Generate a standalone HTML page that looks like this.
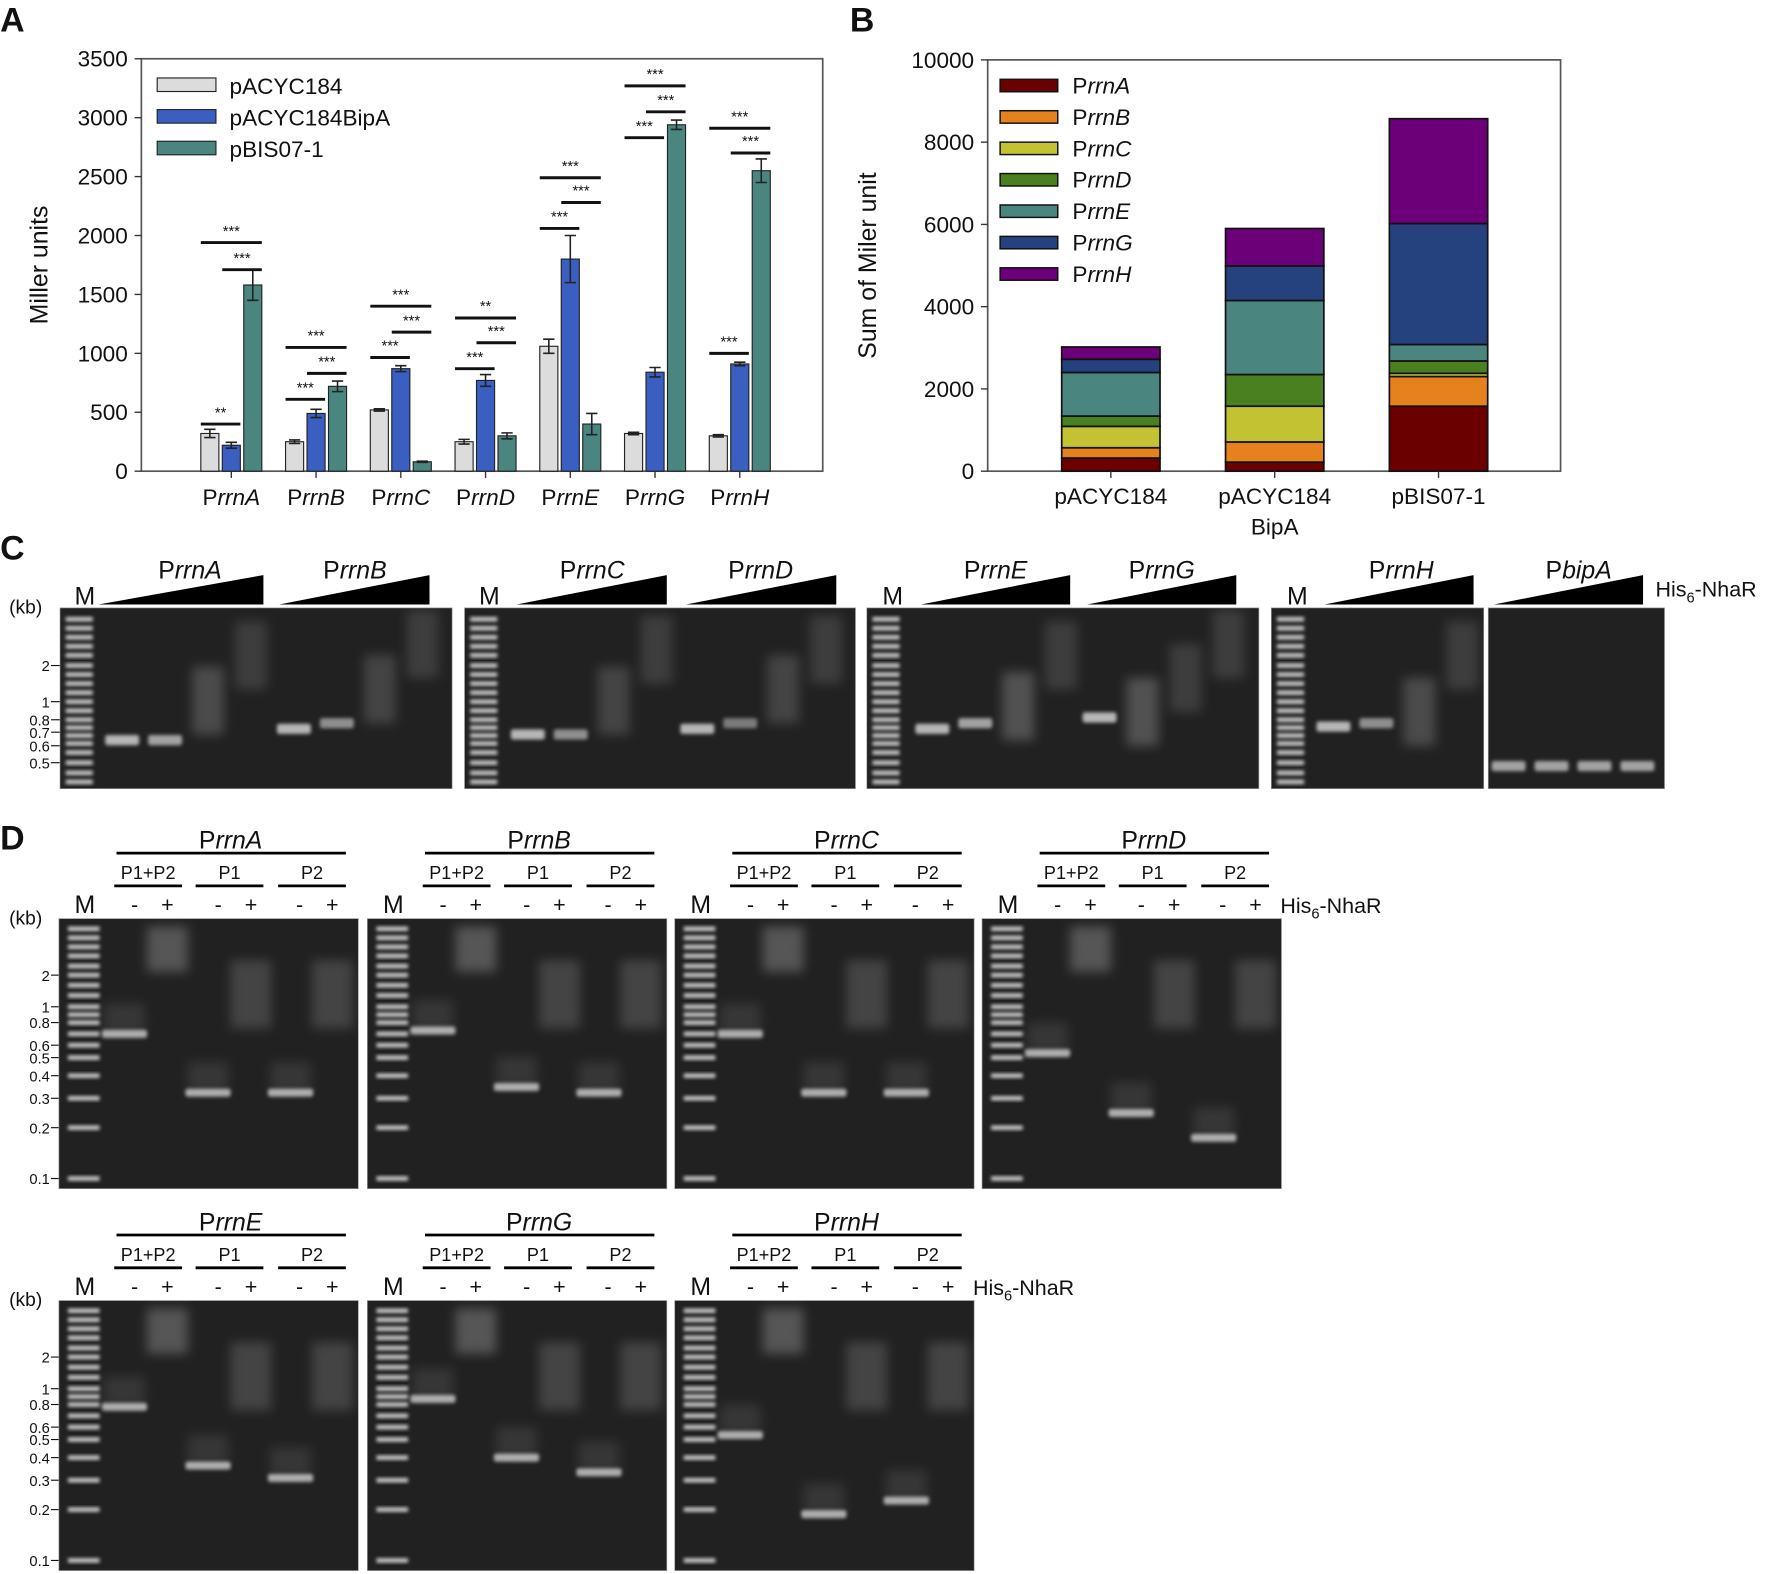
<!DOCTYPE html>
<html><head><meta charset="utf-8">
<style>
html,body{margin:0;padding:0;background:#fff;}
svg{display:block;font-family:"Liberation Sans",Arial,sans-serif;}
</style></head>
<body>
<svg id="fig" width="1772" height="1574" viewBox="0 0 1568 1393" xmlns="http://www.w3.org/2000/svg">
<defs>
<filter id="blur" x="-50%" y="-50%" width="200%" height="200%"><feGaussianBlur stdDeviation="1.6"/></filter>
<filter id="blur2" x="-50%" y="-50%" width="200%" height="200%"><feGaussianBlur stdDeviation="5"/></filter>
</defs>
<rect width="1568" height="1393" fill="#fff"/>
<g id="panelA"></g>
<g id="panelB"></g>
<g id="panelC"></g>
<g id="panelD"></g>
</svg>
<script>
// ---- Panel A data ----
const categories = ["A","B","C","D","E","G","H"];
const seriesNames = ["pACYC184","pACYC184BipA","pBIS07-1"];
const valsPACYC = [320,250,520,250,1060,320,300];
const valsBipA = [220,490,870,770,1800,840,910];
const valsPBIS = [1580,720,80,300,400,2940,2550];
const errPACYC = [35,15,10,20,60,10,10];
const errBipA = [25,35,25,50,200,40,15];
const errPBIS = [130,45,5,25,90,40,100];
const yTicksA = [0,500,1000,1500,2000,2500,3000,3500];
// significance: group, fromSeries, toSeries, y value, label
const sigGroup = [0,0,0, 1,1,1, 2,2,2, 3,3,3, 4,4,4, 5,5,5, 6,6,6];
const sigFrom  = [0,0,1, 0,1,0, 0,1,0, 0,1,0, 0,1,0, 0,1,0, 0,1,0];
const sigTo    = [1,2,2, 2,2,1, 2,2,1, 2,2,1, 2,2,1, 2,2,1, 2,2,1];
const sigY     = [400,1940,1710, 1050,830,610, 1400,1180,965, 1300,1090,870, 2490,2280,2060, 3270,3050,2830, 2910,2700,1000];
const sigLabel = ["**","***","***","***","***","***","***","***","***","**","***","***","***","***","***","***","***","***","***","***","***"];
const sigHas   = [1,1,1, 1,1,1, 1,1,1, 1,1,1, 1,1,1, 1,1,1, 1,1,1];
// ---- Panel B data ----
const stackCats = ["pACYC184","pACYC184\nBipA","pBIS07-1"];
const stackKeys = ["A","B","C","D","E","G","H"];
const yTicksB = [0,2000,4000,6000,8000,10000];

const NS="http://www.w3.org/2000/svg";
function mk(tag, attrs, parent){const e=document.createElementNS(NS,tag);for(const k in attrs)e.setAttribute(k,attrs[k]);parent.appendChild(e);return e;}
function txt(parent,x,y,s,size,anchor,extra){const t=mk('text',Object.assign({x:x,y:y,'font-size':size,'text-anchor':anchor||'start',fill:'#111'},extra||{}),parent);t.textContent=s;return t;}
function promoter(parent,x,y,letter,size,anchor,prefix){const t=mk('text',{x:x,y:y,'font-size':size,'text-anchor':anchor||'middle',fill:'#111'},parent);const a=mk('tspan',{},t);a.textContent=(prefix||'P');const b=mk('tspan',{'font-style':'italic'},t);b.textContent=letter;return t;}

// ================= Panel A =================
const A=document.getElementById('panelA');
const AL=125,AR=728,AT=52,AB=417;
function yA(v){return AB-v/3500*(AB-AT);}
function xA(g,s){return 204.6+75*g+(s-1)*19;}
let lab=txt(A,0,28,"A",30,'start',{'font-weight':'bold'});


let frame=mk('rect',{x:AL,y:AT,width:AR-AL,height:AB-AT,fill:'none',stroke:'#555','stroke-width':1.5},A);


yTicksA.forEach(v=>{
  const tk=mk('line',{x1:AL-6,x2:AL,y1:yA(v),y2:yA(v),stroke:'#333','stroke-width':1.2},A);
  
  
  const t=txt(A,AL-12,yA(v)+7,String(v),20,'end');
  
  
});
let yt=txt(A,0,0,"Miller units",22,'middle',{transform:`translate(42,${(AT+AB)/2}) rotate(-90)`});


const colsA=["#dcdcdc","#3a5fc0","#4a8580"];
const valsA=[valsPACYC,valsBipA,valsPBIS];
const errsA=[errPACYC,errBipA,errPBIS];
categories.forEach((c,g)=>{
  const tk=mk('line',{x1:xA(g,1),x2:xA(g,1),y1:AB,y2:AB+6,stroke:'#333','stroke-width':1.2},A);
  
  
  const t=promoter(A,xA(g,1),AB+30,"rrn"+c,20,'middle');
  
  
  for(let s=0;s<3;s++){
    const v=valsA[s][g],e=errsA[s][g],x=xA(g,s);
    const b=mk('rect',{x:x-8,y:yA(v),width:16,height:AB-yA(v),fill:colsA[s],stroke:'#222','stroke-width':1},A);
    
    
    const eb=mk('path',{d:`M${x-5},${yA(v+e)}H${x+5}M${x},${yA(v+e)}V${yA(v-e)}M${x-5},${yA(v-e)}H${x+5}`,stroke:'#222','stroke-width':1.4,fill:'none'},A);
    
    
  }
});
sigGroup.forEach((g,i)=>{
  if(!sigHas[i])return;
  const x1=xA(g,sigFrom[i])-8,x2=xA(g,sigTo[i])+8,y=yA(sigY[i]);
  const l=mk('line',{x1:x1,x2:x2,y1:y,y2:y,stroke:'#111','stroke-width':2.6},A);
  
  
  const t=txt(A,(x1+x2)/2,y-6,sigLabel[i],13,'middle');
  
  
});
seriesNames.forEach((n,s)=>{
  const y=75+28*s;
  const r=mk('rect',{x:139,y:y-6,width:52,height:12,fill:colsA[s],stroke:'#222','stroke-width':1},A);
  
  
  const t=txt(A,203,y+8,n,20,'start');
  
  
});

// ================= Panel B =================
const B=document.getElementById('panelB');
const BL=874,BR=1381,BT=53,BB=417;
function yB(v){return BB-v/10000*(BB-BT);}
function xB(i){return 983+145*i;}
lab=txt(B,752,28,"B",30,'start',{'font-weight':'bold'});


frame=mk('rect',{x:BL,y:BT,width:BR-BL,height:BB-BT,fill:'none',stroke:'#555','stroke-width':1.5},B);


yTicksB.forEach(v=>{
  const tk=mk('line',{x1:BL-6,x2:BL,y1:yB(v),y2:yB(v),stroke:'#333','stroke-width':1.2},B);
  
  
  const t=txt(B,BL-12,yB(v)+7,String(v),20,'end');
  
  
});
yt=txt(B,0,0,"Sum of Miler unit",22,'middle',{transform:`translate(775,${(BT+BB)/2}) rotate(-90)`});


const colsB=["#6b0000","#e6821e","#c2c232","#4a8020","#4a8580","#26427e","#6c0078"];
stackCats.forEach((c,i)=>{
  const vals=valsA[i];
  let acc=0;
  const x=xB(i);
  vals.forEach((v,k)=>{
    const r=mk('rect',{x:x-43.5,y:yB(acc+v),width:87,height:yB(acc)-yB(acc+v),fill:colsB[k],stroke:'#111','stroke-width':1.5},B);
    
    
    acc+=v;
  });
  const tk=mk('line',{x1:x,x2:x,y1:BB,y2:BB+6,stroke:'#333','stroke-width':1.2},B);
  
  
  c.split('\n').forEach((line,j)=>{
    const t=txt(B,x,BB+29+j*27,line,20,'middle');
    
    
  });
});
stackKeys.forEach((k,i)=>{
  const y=75.7+27.8*i;
  const r=mk('rect',{x:885,y:y-5.5,width:51,height:11,fill:colsB[i],stroke:'#111','stroke-width':1.3},B);
  
  
  const t=promoter(B,949,y+7,"rrn"+k,20,'start');
  
  
});

// ================= Gels helpers =================
function gel(parent,x,y,w,h){const r=mk('rect',{x:x,y:y,width:w,height:h,fill:'#212121',stroke:'#999','stroke-width':0.6},parent);return r;}
function band(parent,x,y,w,h,op){const r=mk('rect',{x:x-w/2,y:y-h/2,width:w,height:h,fill:'#e8e8e8',opacity:op,rx:2,filter:'url(#blur)'},parent);return r;}
function smear(parent,x,y,w,h,op){const r=mk('rect',{x:x-w/2,y:y-h/2,width:w,height:h,fill:'#cfcfcf',opacity:op,filter:'url(#blur2)'},parent);return r;}
function ladder(parent,x,ys,w){ys.forEach(yy=>{const r=mk('rect',{x:x,y:yy-2,width:w,height:4,fill:'#f2f2f2',opacity:0.8,filter:'url(#blur)'},parent);});}

// ================= Panel C =================
const C=document.getElementById('panelC');
lab=txt(C,0,495,"C",30,'start',{'font-weight':'bold'});


let t=txt(C,8,543,"(kb)",17,'start');


[["2",589],["1",621],["0.8",637],["0.7",648],["0.6",660],["0.5",675]].forEach(k=>{
  const tt=txt(C,44,k[1]+5,k[0],13,'end');
  
  
  const l=mk('line',{x1:45,x2:53,y1:k[1],y2:k[1],stroke:'#111','stroke-width':1},C);
  
  
});
const cGels=[[53,347],[411,346],[767,347],[1125,188],[1317,156]];
cGels.forEach(g=>gel(C,g[0],538,g[1],160));
const ladC=[548,556,564,572,580,589,597,605,613,621,629,637,644,651,658,666,675,684,692];
[53,411,767,1125].forEach(x=>ladder(C,x+5,ladC,24));
// headers C
[["A",168,87,233],["B",314,247,380],["C",524,457,590],["D",673,607,740],["E",881,815,947],["G",1028,962,1094],["H",1240,1172,1304]].forEach(h=>{
  const tt=promoter(C,h[1],512,"rrn"+h[0],22,'middle');
  
  
  const w=mk('polygon',{points:`${h[2]},535 ${h[3]},535 ${h[3]},509`,fill:'#000'},C);
  
  
});
t=promoter(C,1397,512,"bipA",22,'middle');


let w=mk('polygon',{points:`1322,535 1454,535 1454,509`,fill:'#000'},C);


[75,433,790,1148].forEach(x=>{const m=txt(C,x,535,"M",22,'middle');});
t=mk('text',{x:1465,y:528,'font-size':19,fill:'#111'},C);
t.innerHTML='His<tspan font-size="13" dy="5">6</tspan><tspan dy="-5">-NhaR</tspan>';


// bands C
[[108,655,.75],[146,655,.65],[184,620,.12],[222,580,.08],[260,645,.75],[298,640,.55],[336,610,.1],[374,570,.08],
 [467,650,.75],[505,650,.55],[543,620,.1],[581,575,.08],[617,645,.75],[655,640,.45],[693,610,.1],[731,575,.08],
 [825,645,.75],[863,640,.65],[901,625,.14],[939,580,.08],[973,635,.75],[1011,630,.14],[1049,600,.08],[1087,570,.08],
 [1180,643,.75],[1218,640,.55],[1256,630,.12],[1294,580,.08],
 [1335,678,.65],[1373,678,.65],[1411,678,.65],[1449,678,.65]].forEach(b=>{ if(b[2]>.3) band(C,b[0],b[1],30,9,b[2]); else smear(C,b[0],b[1],28,60,b[2]*2); });

// ================= Panel D =================
const D=document.getElementById('panelD');
lab=txt(D,0,752,"D",30,'start',{'font-weight':'bold'});


const kbD=[["2",863],["1",891],["0.8",905],["0.6",925],["0.5",936],["0.4",952],["0.3",972],["0.2",998],["0.1",1043]];
const ladD=[822,830,838,846,855,863,872,881,891,898,905,915,925,936,952,972,998,1043];
const dGels=[["A",52,0,[915,967,967]],["B",325,0,[912,962,967]],["C",597,0,[915,967,967]],["D",869,0,[932,985,1007]],
             ["E",52,338,[907,959,970]],["G",325,338,[900,952,965]],["H",597,338,[932,1002,990]]];
[0,338].forEach(dy=>{
  const tt=txt(D,8,818+dy,"(kb)",17,'start');
  
  
  kbD.forEach(k=>{
    const s=txt(D,44,k[1]+dy+5,k[0],13,'end');
    
    
    const l=mk('line',{x1:45,x2:53,y1:k[1]+dy,y2:k[1]+dy,stroke:'#111','stroke-width':1},D);
    
    
  });
});
dGels.forEach(g=>{
  const gx=g[1],dy=g[2];
  gel(D,gx,813+dy,265,239);
  ladder(D,gx+8,ladD.map(v=>v+dy),28);
  const cx=gx+152;
  const h=promoter(D,cx,751+dy,"rrn"+g[0],22,'middle');
  
  
  const hl=mk('line',{x1:gx+51,x2:gx+254,y1:755+dy,y2:755+dy,stroke:'#000','stroke-width':2.5},D);
  
  
  [["P1+P2",79],["P1",151],["P2",224]].forEach(s=>{
    const st=txt(D,gx+s[1],778+dy,s[0],16,'middle');
    
    
    const sl=mk('line',{x1:gx+s[1]-30,x2:gx+s[1]+30,y1:784+dy,y2:784+dy,stroke:'#000','stroke-width':2.5},D);
    
    
  });
  const m=txt(D,gx+23,808+dy,"M",22,'middle');
  
  
  [67,96,141,170,213,242].forEach((lx,i)=>{
    const s=txt(D,gx+lx,807+dy,i%2?"+":"-",19,'middle');
    
    
  });
  // bands
  band(D,gx+58,g[3][0]+dy,40,7,.7);
  band(D,gx+132,g[3][1]+dy,40,7,.7);
  band(D,gx+205,g[3][2]+dy,40,7,.7);
  smear(D,gx+58,g[3][0]+dy-14,36,26,.12);
  smear(D,gx+132,g[3][1]+dy-14,36,26,.12);
  smear(D,gx+205,g[3][2]+dy-14,36,26,.12);
  smear(D,gx+96,840+dy,36,40,.3);
  smear(D,gx+170,880+dy,36,60,.2);
  smear(D,gx+242,880+dy,36,60,.2);
});
t=mk('text',{x:1133,y:808,'font-size':19,fill:'#111'},D);
t.innerHTML='His<tspan font-size="13" dy="5">6</tspan><tspan dy="-5">-NhaR</tspan>';


t=mk('text',{x:861,y:1146,'font-size':19,fill:'#111'},D);
t.innerHTML='His<tspan font-size="13" dy="5">6</tspan><tspan dy="-5">-NhaR</tspan>';


</script>
</body></html>
